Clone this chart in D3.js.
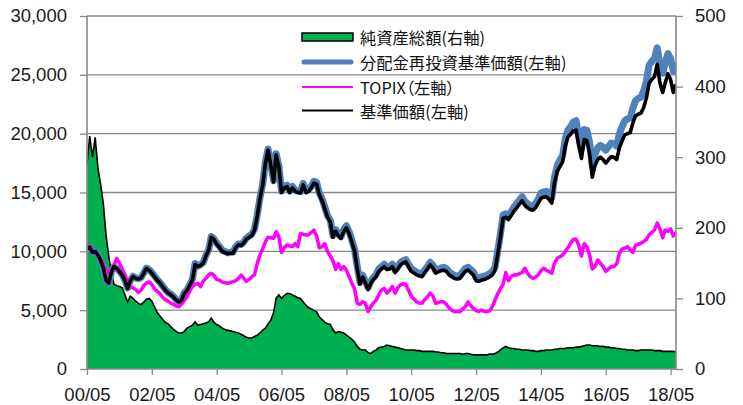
<!DOCTYPE html>
<html><head><meta charset="utf-8">
<script src="https://cdn.jsdelivr.net/npm/d3@7"></script>
<style>body{margin:0;background:#fff} svg{display:block}</style>
</head><body>
<svg id="c" width="743" height="405"></svg>
<script>
// ---- data (monthly, from 2000-05) ----
const startMonth = "2000-05";
const nav = [
10200,10350,9900,10000,9650,9250,8600,7550,7300,8300,8700,8550,
8300,8000,7550,6850,7500,7850,7700,7650,7750,8150,8550,8400,
8150,7850,7550,7300,7000,6700,6450,6300,6100,5850,5700,5850,
6400,6650,7100,7550,8900,8700,8800,9000,9600,10100,11200,11000,
10600,10350,10000,9900,9800,9850,9850,10300,10550,10500,10700,11050,
11200,11350,11800,13000,14500,15600,17500,18600,17300,15900,18200,17200,
15000,15400,15500,15000,15400,15100,15000,14970,15650,15000,15100,15400,
15800,15700,14800,14300,13600,12900,12500,11200,11700,11300,11100,11700,
12000,11500,10800,10000,8500,7200,7800,7300,6750,7300,7600,7850,
8300,8500,8700,8450,8500,8700,8200,8500,8850,9000,9100,8700,
8300,8150,8000,7900,7850,8200,8500,8850,8600,8150,8250,8350,
8400,8300,8000,7850,7700,7650,7700,8000,8300,8400,8200,7990,
7500,7450,7550,7600,7700,7850,8000,8400,9800,11300,12800,12900,
12700,13050,13400,13700,14000,14300,13900,13700,13550,13500,13700,14100,
14500,14600,14650,14400,14100,15800,16800,17200,17600,19000,19700,19950,
20250,20300,19000,17900,19500,19400,18300,16300,17300,17800,18000,17800,
17500,17800,18050,18000,17800,18800,19400,19900,20000,20100,20900,21500,
21650,21750,22200,23000,24300,24600,24850,25900,24300,23500,24300,25100,
24600,23500,24200];
const navReinvested = [
10200,10350,9900,10000,9650,9250,8600,7550,7300,8300,8700,8550,
8330,8030,7580,6880,7530,7880,7730,7680,7780,8180,8580,8430,
8200,7900,7600,7350,7050,6750,6500,6350,6150,5900,5750,5900,
6460,6710,7160,7610,8960,8760,8860,9060,9660,10160,11260,11060,
10680,10430,10080,9980,9880,9930,9930,10380,10630,10580,10780,11130,
11300,11450,11900,13100,14600,15700,17600,18700,17400,16000,18300,17300,
15120,15520,15620,15120,15520,15220,15120,15090,15770,15120,15220,15520,
15950,15850,14950,14450,13750,13050,12650,11350,11850,11450,11250,11850,
12170,11670,10970,10170,8670,7370,7970,7470,6920,7470,7770,8020,
8500,8700,8900,8650,8700,8900,8400,8700,9050,9200,9300,8900,
8520,8370,8220,8120,8070,8420,8720,9070,8820,8370,8470,8570,
8650,8550,8250,8100,7950,7900,7950,8250,8550,8650,8450,8240,
7780,7730,7830,7880,7980,8130,8280,8680,10080,11580,13100,13200,
13050,13400,13750,14050,14350,14650,14250,14050,13900,13850,14050,14450,
14950,15050,15100,14850,14550,16300,17300,17750,18150,19600,20300,20600,
21000,21100,19800,18700,20350,20300,19250,17250,18300,18800,19000,18850,
18600,18900,19200,19150,18950,20000,20600,21100,21250,21350,22150,22800,
23000,23100,23600,24450,25800,26150,26400,27300,25900,25150,26000,26800,
26400,25300,26000];
const topix = [
10450,10400,10000,9900,9700,9300,8980,8350,8150,8400,8800,9400,
9000,8500,8050,7400,7050,6880,6750,6500,6700,7100,7300,7400,
7200,6800,6600,6400,6100,5900,5750,5600,5500,5350,5300,5500,
5800,6150,6600,7000,7200,7280,7000,7450,7700,8000,8130,7950,
7600,7550,7400,7350,7280,7350,7420,7500,7700,7990,7700,7450,
7600,7850,8000,9000,9700,10200,10820,11200,11150,11100,11670,11250,
9900,10300,10540,10450,10400,10650,10400,11500,11450,11390,11390,11600,
11800,11300,10300,10400,10650,10000,9600,9200,8450,8950,8450,8700,
8400,7850,7300,6800,5600,5500,5720,5580,4900,5300,5600,5850,
6300,6700,6850,6450,6700,7000,6450,6900,7150,7250,7200,6700,
6200,5950,5720,5600,5580,5900,6150,6450,6200,5580,5650,5720,
5720,5500,5200,5000,4870,4900,4870,5100,5300,5700,5400,5150,
4950,4900,5010,4900,4870,4950,5300,5865,6430,6850,7200,8200,
7500,7850,8000,7990,8100,8200,8560,8150,7850,7700,7800,8000,
8350,8560,8400,8270,8130,9000,9400,9550,9690,10000,10300,10700,
11000,11050,10500,9600,10650,10400,9700,8500,8700,9265,9000,8700,
8300,8500,8700,8700,8950,9800,10200,10260,10400,10100,9900,10500,
10600,10680,10820,11000,11400,11600,11815,12400,11900,11150,11800,11700,
11900,11300,11600];
const netAssets = [
290,330,300,328,285,262,234,190,160,135,120,118,
117,115,106,95,103,100,96,93,91,95,99,100,
96,88,80,75,70,66,64,60,56,53,51,51,
53,58,60,62,67,62,63,64,65,67,72,66,
63,61,58,56,55,54,53,52,51,49,47,45,
44,44,46,48,51,55,58,64,69,80,100,105,
100,104,107,107,105,103,101,100,95,90,87,85,
83,81,74,70,66,64,63,56,51,53,52,51,
48,45,42,38,32,28,27,27,23,22,25,27,
30,31,32,34,33,32,31,30,29,28,27,27,
27,27,26,26,25,25,25,25,25,24,24,23,
23,22,22,22,22,22,22,21,22,22,21,20,
20,20,20,20,20,21,21,22,24,27,30,32,
30,29,29,28,28,27,27,27,26,26,25,25,
26,26,27,27,27,28,28,29,29,29,30,30,
30,31,31,32,33,34,34,33,33,33,32,32,
31,31,30,30,29,29,28,28,27,27,27,26,
26,27,27,27,27,27,26,26,26,25,25,25,
25,25,24];
const xTickLabels = ["00/05","02/05","04/05","06/05","08/05","10/05","12/05","14/05","16/05","18/05"];
const leftTicks = [0,5000,10000,15000,20000,25000,30000];
const rightTicks = [0,100,200,300,400,500];
const legendLabels = ["純資産総額(右軸)","分配金再投資基準価額(左軸)","TOPIX（左軸）","基準価額(左軸)"];

// ---- layout ----
const L = 87, R = 676, T = 16, B = 369;
const gridColor = "#898989";
const svg = d3.select("#c");
const t0 = d3.timeParse("%Y-%m")(startMonth);
const dates = nav.map((_, i) => d3.timeMonth.offset(t0, i));
const x = d3.scaleTime().domain([t0, dates[dates.length - 1]]).range([L, R]);
const y = d3.scaleLinear().domain([0, 30000]).range([B, T]);
const y2 = d3.scaleLinear().domain([0, 500]).range([B, T]);
const tickFont = "'Liberation Sans', Arial, sans-serif";

// gridlines
svg.append("g").selectAll("line").data(leftTicks.filter(d => d > 0)).join("line")
  .attr("x1", L).attr("x2", R).attr("y1", d => y(d)).attr("y2", d => y(d))
  .attr("stroke", gridColor).attr("stroke-width", 1.3);

svg.append("defs").append("clipPath").attr("id", "clip")
  .append("rect").attr("x", L).attr("y", T - 10).attr("width", R - L).attr("height", B - T + 10);

const plot = svg.append("g").attr("clip-path", "url(#clip)");
plot.append("path").datum(netAssets)
  .attr("d", d3.area().x((d, i) => x(dates[i])).y0(y2(0)).y1(d => y2(d)))
  .attr("fill", "#00B050");
plot.append("path").datum(netAssets)
  .attr("d", d3.line().x((d, i) => x(dates[i])).y(d => y2(d)))
  .attr("fill", "none").attr("stroke", "#000").attr("stroke-width", 1.6);

const line = d3.line().x((d, i) => x(dates[i])).y(d => y(d));
plot.append("path").datum(navReinvested).attr("d", line)
  .attr("fill", "none").attr("stroke", "#4F81BD").attr("stroke-width", 7).attr("stroke-linejoin", "round");
plot.append("path").datum(topix).attr("d", line)
  .attr("fill", "none").attr("stroke", "#FF00FF").attr("stroke-width", 3.5).attr("stroke-linejoin", "round");
plot.append("path").datum(nav).attr("d", line)
  .attr("fill", "none").attr("stroke", "#000").attr("stroke-width", 3.6).attr("stroke-linejoin", "round");

// axes
const styleAxis = g => {
  g.select(".domain").remove();
  g.selectAll(".tick line").attr("stroke", gridColor).attr("stroke-width", 1.3);
  g.selectAll(".tick text").attr("fill", "#1a1a1a").style("font-family", tickFont).style("font-size", "18.5px");
};
svg.append("g").attr("transform", `translate(${L},0)`)
  .call(d3.axisLeft(y).tickValues(leftTicks).tickSize(7).tickPadding(13).tickFormat(d3.format(",")))
  .call(styleAxis);
svg.append("g").attr("transform", `translate(${R},0)`)
  .call(d3.axisRight(y2).tickValues(rightTicks).tickSize(7).tickPadding(12).tickFormat(d3.format("d")))
  .call(styleAxis);
const xParse = d3.timeParse("%y/%m");
svg.append("g").attr("transform", `translate(0,${B})`)
  .call(d3.axisBottom(x).tickValues(xTickLabels.map(xParse)).tickSize(6).tickPadding(13).tickFormat(d3.timeFormat("%y/%m")))
  .call(styleAxis);

// axis lines
svg.append("line").attr("x1", L).attr("x2", L).attr("y1", T).attr("y2", B).attr("stroke", gridColor).attr("stroke-width", 1.6);
svg.append("line").attr("x1", R).attr("x2", R).attr("y1", T).attr("y2", B).attr("stroke", gridColor).attr("stroke-width", 1.6);
svg.append("line").attr("x1", L).attr("x2", R).attr("y1", B).attr("y2", B).attr("stroke", gridColor).attr("stroke-width", 1.6);

// legend
const lg = svg.append("g");
const lx0 = 302, lx1 = 353, ly = [37, 62, 87, 110.5];
lg.append("rect").attr("x", lx0).attr("y", ly[0] - 4).attr("width", lx1 - lx0).attr("height", 8)
  .attr("fill", "#00B050").attr("stroke", "#000").attr("stroke-width", 1.5);
lg.append("line").attr("x1", lx0 + 2).attr("x2", lx1 - 2).attr("y1", ly[1]).attr("y2", ly[1])
  .attr("stroke", "#4F81BD").attr("stroke-width", 5).attr("stroke-linecap", "round");
lg.append("line").attr("x1", lx0).attr("x2", lx1).attr("y1", ly[2]).attr("y2", ly[2])
  .attr("stroke", "#FF00FF").attr("stroke-width", 2);
lg.append("line").attr("x1", lx0).attr("x2", lx1).attr("y1", ly[3]).attr("y2", ly[3])
  .attr("stroke", "#000").attr("stroke-width", 2);
lg.selectAll("text").data(legendLabels).join("text")
  .attr("x", 360).attr("y", (d, i) => ly[i]).attr("dominant-baseline", "central")
  .style("font-family", "'Noto Sans CJK JP', sans-serif").style("font-size", "16.3px")
  .style("font-feature-settings", (d, i) => i === 2 ? "'palt'" : "normal")
  .style("word-spacing", "0px")
  .attr("fill", "#111").text(d => d);
</script>
</body></html>
